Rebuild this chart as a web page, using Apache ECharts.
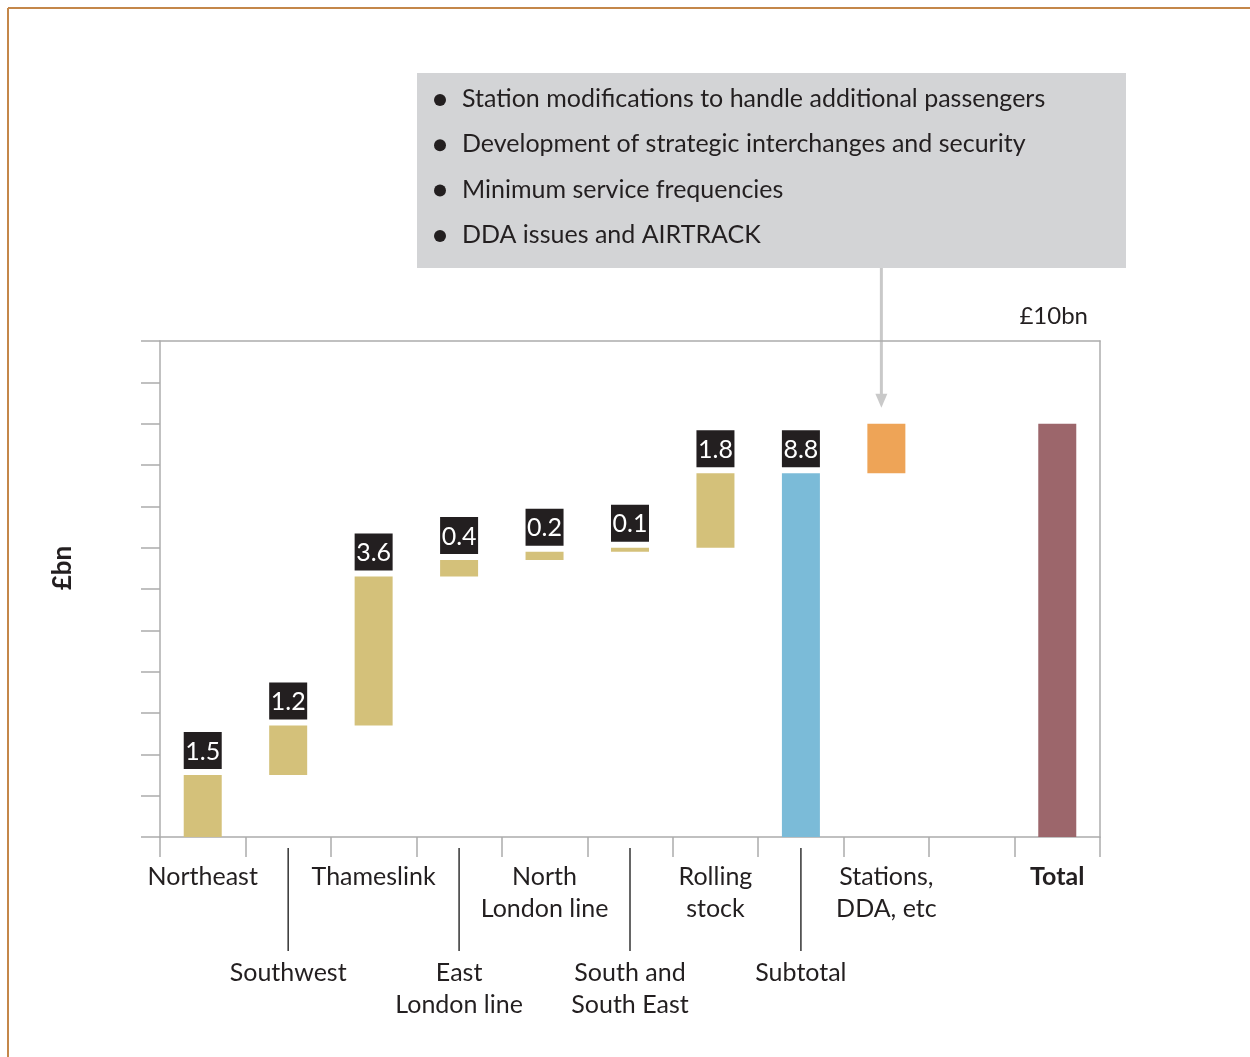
<!DOCTYPE html>
<html>
<head>
<meta charset="utf-8">
<script src="https://cdn.jsdelivr.net/npm/echarts@6/dist/echarts.min.js"></script>
<style>
  html, body { margin: 0; padding: 0; background: #fff; }
  #chart { width: 1250px; height: 1057px; }
</style>
</head>
<body>
<div id="chart"></div>
<script>
// Cost build-up (£bn), drawn as a waterfall
const categories = ['Northeast', 'Southwest', 'Thameslink', 'East\nLondon line', 'North\nLondon line',
  'South and\nSouth East', 'Rolling\nstock', 'Subtotal', 'Stations,\nDDA, etc', '', 'Total'];
const increments = [1.5, 1.2, 3.6, 0.4, 0.2, 0.1, 1.8];   // schemes, stacked one on another
const subtotal = 8.8;
const stations = 1.2;
const total = 10;
const labelled = [true, true, true, true, true, true, true, true, false, false, false];
const calloutLines = [
  'Station modifications to handle additional passengers',
  'Development of strategic interchanges and security',
  'Minimum service frequencies',
  'DDA issues and AIRTRACK'
];
const yTicks = { min: 0, max: 12, interval: 1 };

const GOLD = '#d4c17a', BLUE = '#7bbbd8', ORANGE = '#eea457', MAROON = '#9c666b';
const INK = '#231f20', AXIS = '#acacac';
const FONT = 'Lato, "Open Sans", sans-serif';

// Build invisible bases and visible steps
const base = [], step = [];
let run = 0;
increments.forEach(v => { base.push(run); step.push(v); run += v; });
base.push(0); step.push(subtotal);
base.push(subtotal); step.push(stations);
base.push('-'); step.push('-');
base.push(0); step.push(total);
const colours = [GOLD, GOLD, GOLD, GOLD, GOLD, GOLD, GOLD, BLUE, ORANGE, GOLD, MAROON];

const chart = echarts.init(document.getElementById('chart'));

const stepData = step.map((v, i) => ({
  value: v,
  itemStyle: { color: colours[i] },
  label: { show: labelled[i] }
}));

chart.setOption({
  animation: false,
  grid: { left: 160, right: 150, top: 341, bottom: 220 },
  xAxis: [{
    type: 'category',
    data: categories,
    axisLine: { onZero: false, lineStyle: { color: AXIS, width: 1.5 } },
    axisTick: { show: true, interval: 0, length: 20, lineStyle: { color: AXIS, width: 1.5 } },
    axisLabel: {
      interval: 0,
      margin: 24,
      color: INK,
      fontFamily: FONT,
      fontSize: 25,
      lineHeight: 32,
      formatter: (v, i) => {
        if (v === 'Total') return '{b|Total}';
        return (i % 2 === 1 ? '\n\n\n' : '') + v;
      },
      rich: { b: { fontWeight: 'bold', fontSize: 25, color: INK, fontFamily: FONT, lineHeight: 32 } }
    }
  }, {
    type: 'category',
    position: 'top',
    data: categories,
    axisLine: { show: true, onZero: false, lineStyle: { color: AXIS, width: 1.5 } },
    axisTick: { show: false },
    axisLabel: { show: false }
  }],
  yAxis: [{
    type: 'value',
    min: yTicks.min, max: yTicks.max, interval: yTicks.interval,
    axisLine: { show: true, onZero: false, lineStyle: { color: AXIS, width: 1.5 } },
    axisTick: { show: true, length: 19, lineStyle: { color: AXIS, width: 1.5 } },
    axisLabel: { show: false },
    splitLine: { show: false }
  }, {
    type: 'value',
    position: 'right',
    min: yTicks.min, max: yTicks.max, interval: yTicks.interval,
    axisLine: { show: true, onZero: false, lineStyle: { color: AXIS, width: 1.5 } },
    axisTick: { show: false },
    axisLabel: { show: false },
    splitLine: { show: false }
  }],
  series: [{
    type: 'bar',
    stack: 'w',
    data: base,
    barWidth: 38,
    silent: true,
    itemStyle: { color: 'transparent' }
  }, {
    type: 'bar',
    stack: 'w',
    data: stepData,
    barWidth: 38,
    label: {
      position: 'top',
      distance: 6,
      backgroundColor: INK,
      color: '#fff',
      fontFamily: FONT,
      fontSize: 25,
      width: 38,
      height: 29,
      lineHeight: 29,
      align: 'center',
      padding: [5, 0, 3, 0],
      formatter: p => String(p.value)
    }
  }]
});

// Leader lines, callout and annotations
function px(cat, val) { return chart.convertToPixel({ xAxisIndex: 0, yAxisIndex: 0 }, [cat, val]); }
const axisY = px(0, 0)[1];
const graphics = [];

// frame edges
graphics.push({ type: 'line', shape: { x1: 8, y1: 8, x2: 1250, y2: 8 }, style: { stroke: '#c4874a', lineWidth: 2 } });
graphics.push({ type: 'line', shape: { x1: 8, y1: 8, x2: 8, y2: 1057 }, style: { stroke: '#c4874a', lineWidth: 2 } });

// leader lines for the lower label row
categories.forEach((c, i) => {
  if (i % 2 === 1 && c) {
    const x = px(i, 0)[0];
    graphics.push({ type: 'line', shape: { x1: x, y1: axisY + 11, x2: x, y2: axisY + 114 }, style: { stroke: '#333', lineWidth: 1.5 } });
  }
});

// callout box
graphics.push({ type: 'rect', shape: { x: 417, y: 73, width: 709, height: 195 }, style: { fill: '#d3d4d6' } });
calloutLines.forEach((t, i) => {
  const y = 99 + i * 45.3;
  graphics.push({ type: 'circle', shape: { cx: 440, cy: y + 1, r: 6 }, style: { fill: INK } });
  graphics.push({ type: 'text', x: 462, y: y, style: { text: t, fill: INK, font: '25px ' + FONT, textVerticalAlign: 'middle' } });
});

// arrow from callout to the stations bar
const stationsX = px(8, 0)[0] - 5;
const arrowTip = px(8, subtotal + stations)[1] - 16;
graphics.push({ type: 'line', shape: { x1: stationsX, y1: 268, x2: stationsX, y2: arrowTip - 10 }, style: { stroke: '#c9c9c9', lineWidth: 3 } });
graphics.push({ type: 'polygon', shape: { points: [[stationsX - 6, arrowTip - 14], [stationsX + 6, arrowTip - 14], [stationsX, arrowTip]] }, style: { fill: '#c9c9c9' } });

// £10bn marker and axis title
graphics.push({ type: 'text', x: 1088, y: 316, style: { text: '£10bn', fill: INK, font: '24px ' + FONT, textAlign: 'right', textVerticalAlign: 'middle' } });
graphics.push({ type: 'text', x: 63, y: 568, rotation: Math.PI / 2, style: { text: '£bn', fill: INK, font: 'bold 26px ' + FONT, textAlign: 'center', textVerticalAlign: 'middle' } });

chart.setOption({ graphic: graphics });
</script>
</body>
</html>
